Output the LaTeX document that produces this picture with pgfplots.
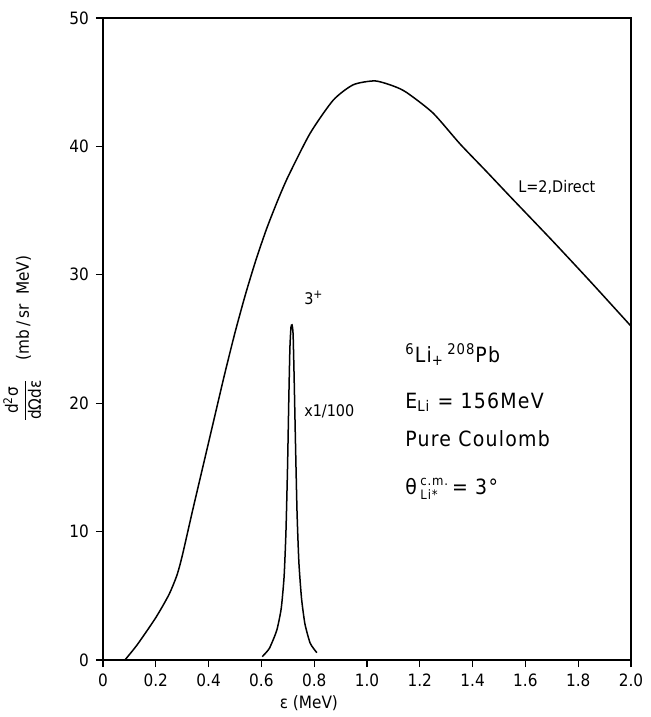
\documentclass[border=0pt]{standalone}
\usepackage{fontspec}
\setmainfont{DejaVu Sans Condensed}
\newfontfamily\wide[LetterSpace=6]{DejaVu Sans Condensed}
\usepackage{pgfplots}
\pgfplotsset{compat=1.18}
\newcommand{\sm}[1]{\hbox{\fontsize{6.5}{7}\selectfont #1}}
\begin{document}
\begin{tikzpicture}
\useasboundingbox (-51.5pt,-28.5pt) rectangle (273.5pt,330pt);
\begin{axis}[
  scale only axis, width=264pt, height=321pt,
  at={(0,0)}, anchor=south west,
  xmin=0, xmax=2, ymin=0, ymax=50,
  axis line style={line width=0.6pt},
  tick style={line width=0.6pt, black},
  tick align=outside, tick pos=left, major tick length=3.5pt,
  xtick={0,0.2,0.4,0.6,0.8,1.0,1.2,1.4,1.6,1.8,2.0},
  xticklabels={0,0.2,0.4,0.6,0.8,1.0,1.2,1.4,1.6,1.8,2.0},
  ytick={0,10,20,30,40,50},
  ticklabel style={font=\fontsize{8.5}{10}\selectfont},
  /pgf/number format/assume math mode=true,
  xlabel={ε (MeV)},
  xlabel style={at={(axis description cs:0.39,0)}, anchor=center, yshift=-21.5pt, font=\fontsize{8.5}{10}\selectfont},
  ylabel={$\displaystyle\frac{\textnormal{d\textsuperscript{2}σ}}{\textnormal{dΩdε}}$\hspace{9pt}(mb\,/\,sr\ \ MeV)},
  ylabel style={at={(axis description cs:-0.153,0.5)}, anchor=center, font=\fontsize{8.5}{10}\selectfont},
  clip=false,
]
\addplot[black, line width=0.75pt, smooth, tension=0.4] coordinates {
(0.083,0) (0.13,1.2) (0.2,3.3) (0.25,5.1) (0.28,6.6) (0.30,8.1) (0.34,11.7)
(0.38,15.2) (0.42,18.7) (0.46,22.2) (0.50,25.5) (0.54,28.5) (0.58,31.2)
(0.62,33.6) (0.66,35.7) (0.70,37.6) (0.784,41.0) (0.872,43.6) (0.948,44.8)
(1.03,45.1) (1.10,44.7) (1.15,44.2) (1.25,42.6) (1.352,40.2) (1.45,38.1)
(1.542,36.1) (1.70,32.7) (1.845,29.5) (2.0,26.0)
};
\addplot[black, line width=0.75pt, smooth, tension=0.35] coordinates {
(0.603,0.26) (0.63,0.9) (0.658,2.3) (0.675,4.0) (0.686,6.5) (0.693,10.0)
(0.699,15.0) (0.704,20.5) (0.708,24.3) (0.712,25.9) (0.716,26.1) (0.720,25.4)
(0.724,22.0) (0.729,17.0) (0.735,11.5) (0.742,7.6) (0.752,4.8) (0.765,2.8)
(0.785,1.3) (0.81,0.57)
};
\node[anchor=west, inner sep=0pt, font=\fontsize{8}{9}\selectfont] at (axis cs:0.761,28.2) {3\textsuperscript{+}};
\node[anchor=west, inner sep=0pt, font=\fontsize{8}{9}\selectfont] at (axis cs:0.761,19.4) {x1/100};
\node[anchor=west, inner sep=0pt, font=\fontsize{8}{9}\selectfont] at (axis cs:1.572,36.8) {L=2,Direct};
\node[anchor=base west, inner sep=0pt, font=\fontsize{10.5}{12}\wide] at (axis cs:1.144,23.2) {\textsuperscript{6}Li\textsubscript{+}\,\textsuperscript{208}Pb};
\node[anchor=base west, inner sep=0pt, font=\fontsize{10.5}{12}\wide] at (axis cs:1.144,19.6) {E\textsubscript{Li} = 156MeV};
\node[anchor=base west, inner sep=0pt, font=\fontsize{10.5}{12}\wide] at (axis cs:1.144,16.6) {Pure Coulomb};
\node[anchor=base west, inner sep=0pt, font=\fontsize{10.5}{12}\wide] at (axis cs:1.144,12.9) {θ\,\rlap{\raisebox{4.6pt}{\sm{c.m.}}}\raisebox{-2.6pt}{\sm{Li*}}\ \ = 3°};
\end{axis}
\end{tikzpicture}
\end{document}
